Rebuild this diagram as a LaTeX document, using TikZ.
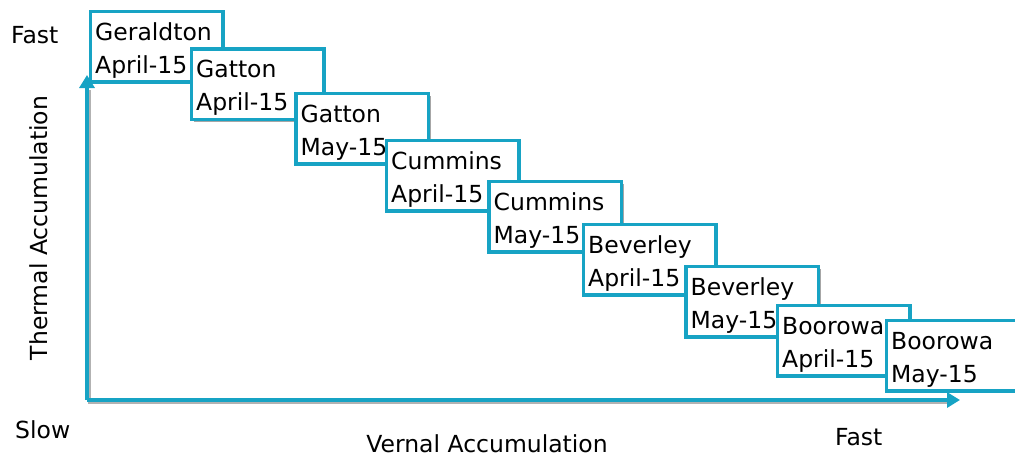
\documentclass[tikz,border=0pt]{standalone}
\usepackage{fontspec}
\setmainfont{DejaVu Sans}
\usetikzlibrary{shadows,arrows.meta}
\definecolor{tealc}{RGB}{23,163,196}
\begin{document}
\begin{tikzpicture}[x=1pt,y=-1pt,
  box/.style={draw=tealc, line width=3.5pt, fill=white, rectangle,
    minimum width=132.5pt, minimum height=70.5pt, inner sep=0pt,
    drop shadow={shadow xshift=2.5pt, shadow yshift=-2.5pt, fill=black, opacity=0.35}},
  boxtext/.style={anchor=base west, inner sep=0pt, align=left,
    font=\fontsize{23.5}{33}\selectfont},
  lbl/.style={font=\fontsize{23.5}{28}\selectfont, inner sep=0pt},
  axis/.style={draw=tealc, line width=3.5pt, -{Triangle[length=13pt,width=15pt]}},
  axshadow/.style={draw=black, opacity=0.3, line width=3pt}]
\useasboundingbox (0,0) rectangle (1015,456);
\foreach \n/\cx/\cy/\a/\b in {
  1/156.5/46.5/Geraldton/April-15,
  2/257.5/84/Gatton/April-15,
  3/362/128.5/Gatton/May-15,
  4/452.5/175.5/Cummins/April-15,
  5/555/216.5/Cummins/May-15,
  6/649.5/259.5/Beverley/April-15,
  7/752/301.5/Beverley/May-15,
  8/843.5/340.5/Boorowa/April-15,
  9/952.5/355.5/Boorowa/May-15}{
  \node[box] (b\n) at (\cx,\cy) {};
  \node[boxtext] (t\n) at ([xshift=6.5pt,yshift=-63.5pt]b\n.north west) {\a\\\b};
}
\coordinate (o) at (87,400);
\coordinate (ytip) at (87,75);
\coordinate (xtip) at (960,400);
\coordinate (os) at (89.5,402.5);
\coordinate (ys) at (89.5,90);
\coordinate (xs) at (948,402.5);
\draw[axshadow] (ys) -- (os) -- (xs);
\draw[axis] (o) -- (ytip);
\draw[axis] (o) -- (xtip);
\node[lbl, anchor=base west] (fastY) at (11,43) {Fast};
\node[lbl, anchor=base west] (slow) at (15,438) {Slow};
\node[lbl, anchor=base] (vern) at (487,452) {Vernal Accumulation};
\node[lbl, anchor=base west] (fastX) at (835,445) {Fast};
\node[lbl, anchor=base, rotate=90] (therm) at (47,228) {Thermal Accumulation};
\end{tikzpicture}
\end{document}
